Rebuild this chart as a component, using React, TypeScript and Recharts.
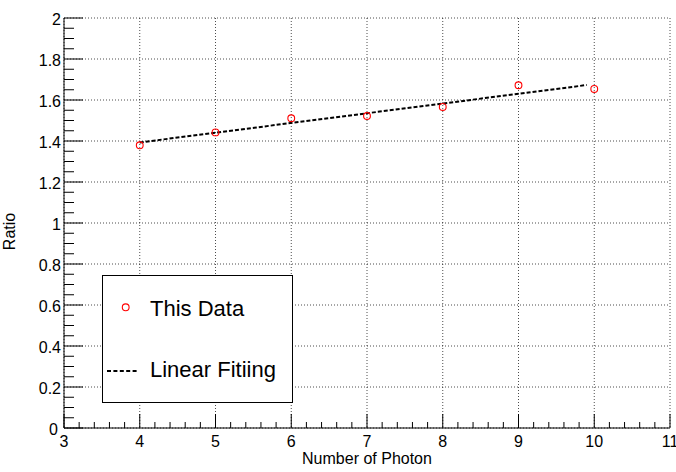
import React from 'react';
import { ComposedChart, XAxis, YAxis, CartesianGrid, Line, Scatter, Legend } from 'recharts';

// Measured ratio for each photon multiplicity
const photonCounts = [4, 5, 6, 7, 8, 9, 10];
const ratios = [1.379, 1.442, 1.511, 1.522, 1.566, 1.672, 1.654];

// Straight-line fit drawn over its fitted range
const fitPhotons = [4, 9.9];
const fitRatios = [1.393, 1.673];

// Axis divisions
const xMajorTicks = [3, 4, 5, 6, 7, 8, 9, 10, 11];
const yMajorTicks = [0, 0.2, 0.4, 0.6, 0.8, 1, 1.2, 1.4, 1.6, 1.8, 2];
const xMinorDivisions = 5;
const yMinorDivisions = 4;

const legendLabels = ['This Data', 'Linear Fitiing'];
const xTitle = 'Number of Photon';
const yTitle = 'Ratio';

const FONT = '"Liberation Sans", Arial, Helvetica, sans-serif';

const points = photonCounts.map((x, i) => ({ x, y: ratios[i] }));
const fitLine = fitPhotons.map((x, i) => ({ x, y: fitRatios[i] }));

function subdivide(majors: number[], n: number): number[] {
  const out: number[] = [];
  for (let i = 0; i < majors.length - 1; i++) {
    const a = majors[i];
    const b = majors[i + 1];
    for (let k = 0; k < n; k++) out.push(+(a + ((b - a) * k) / n).toFixed(4));
  }
  out.push(majors[majors.length - 1]);
  return out;
}

const xAllTicks = subdivide(xMajorTicks, xMinorDivisions);
const yAllTicks = subdivide(yMajorTicks, yMinorDivisions);

const isMajor = (v: number, majors: number[]) => majors.some((m) => Math.abs(m - v) < 1e-6);
const fmt = (v: number) => String(Number(v.toFixed(2)));

const X_MAJOR = 14;
const X_MINOR = 6;
const Y_MAJOR = 19;
const Y_MINOR = 10;

const BottomTick = (props: any) => {
  const { x, y, payload } = props;
  const major = isMajor(payload.value, xMajorTicks);
  return (
    <g>
      <line x1={x} x2={x} y1={y} y2={y - (major ? X_MAJOR : X_MINOR)} stroke="#000" strokeWidth={1} />
      {major && (
        <text x={x} y={y + 18.5} textAnchor="middle" fontFamily={FONT} fontSize={16} fill="#000">
          {fmt(payload.value)}
        </text>
      )}
    </g>
  );
};

const TopTick = (props: any) => {
  const { x, y, payload } = props;
  const major = isMajor(payload.value, xMajorTicks);
  return <line x1={x} x2={x} y1={y} y2={y + (major ? X_MAJOR : X_MINOR)} stroke="#000" strokeWidth={1} />;
};

const LeftTick = (props: any) => {
  const { x, y, payload } = props;
  const major = isMajor(payload.value, yMajorTicks);
  const zero = Math.abs(payload.value) < 1e-6;
  return (
    <g>
      <line x1={x} x2={x + (major ? Y_MAJOR : Y_MINOR)} y1={y} y2={y} stroke="#000" strokeWidth={1} />
      {major && (
        <text x={x - (zero ? 6 : 3)} y={y + 7.3} textAnchor="end" fontFamily={FONT} fontSize={16} fill="#000">
          {fmt(payload.value)}
        </text>
      )}
    </g>
  );
};

const RightTick = (props: any) => {
  const { x, y, payload } = props;
  const major = isMajor(payload.value, yMajorTicks);
  return <line x1={x} x2={x - (major ? Y_MAJOR : Y_MINOR)} y1={y} y2={y} stroke="#000" strokeWidth={1} />;
};

const XTitle = (props: any) => {
  const vb = props.viewBox || { x: 64, y: 428, width: 606, height: 44 };
  return (
    <text x={vb.x + vb.width / 2} y={vb.y + 36} textAnchor="middle" fontFamily={FONT} fontSize={16} fill="#000">
      {xTitle}
    </text>
  );
};

const YTitle = (props: any) => {
  const vb = props.viewBox || { x: 0, y: 18, width: 64, height: 410 };
  const cx = vb.x + 15;
  const cy = vb.y + vb.height / 2 + 8.5;
  return (
    <text
      x={cx}
      y={cy}
      transform={`rotate(-90, ${cx}, ${cy})`}
      textAnchor="middle"
      fontFamily={FONT}
      fontSize={16}
      fill="#000"
    >
      {yTitle}
    </text>
  );
};

const OpenCircle = (props: any) => {
  const { cx, cy } = props;
  return <circle cx={cx} cy={cy} r={3.4} fill="none" stroke="#ff0000" strokeWidth={1.1} />;
};

const LegendBox = () => (
  <div
    style={{
      width: 191,
      height: 128,
      boxSizing: 'border-box',
      border: '1px solid #000',
      background: '#fff',
    }}
  >
    <svg width={189} height={126} style={{ display: 'block' }}>
      <circle cx={22.7} cy={31.3} r={3.4} fill="none" stroke="#ff0000" strokeWidth={1.1} />
      <text x={47} y={40} fontFamily={FONT} fontSize={22} fill="#000">
        {legendLabels[0]}
      </text>
      <line x1={4} x2={36} y1={95} y2={95} stroke="#000" strokeWidth={2} strokeDasharray="4 2.4" />
      <text x={47} y={101} fontFamily={FONT} fontSize={22} fill="#000">
        {legendLabels[1]}
      </text>
    </svg>
  </div>
);

export default function App() {
  return (
    <div style={{ position: 'absolute', left: 0, top: 0, width: 676, height: 472, background: '#fff' }}>
      <ComposedChart width={676} height={472} margin={{ top: 18, right: 6, bottom: 0, left: 0 }}>
        <CartesianGrid
          stroke="#000"
          strokeOpacity={0.7}
          strokeDasharray="1 2"
          verticalValues={xMajorTicks}
          horizontalValues={yMajorTicks}
        />
        <XAxis
          xAxisId={0}
          dataKey="x"
          type="number"
          domain={[3, 11]}
          ticks={xAllTicks}
          interval={0}
          allowDataOverflow
          height={44}
          tickSize={0}
          tickMargin={0}
          tickLine={false}
          axisLine={{ stroke: '#000', strokeWidth: 1 }}
          tick={BottomTick}
          label={XTitle}
        />
        <XAxis
          xAxisId="top"
          orientation="top"
          dataKey="x"
          type="number"
          domain={[3, 11]}
          ticks={xAllTicks}
          interval={0}
          allowDataOverflow
          height={0}
          tickSize={0}
          tickMargin={0}
          tickLine={false}
          axisLine={{ stroke: '#000', strokeWidth: 1 }}
          tick={TopTick}
        />
        <YAxis
          yAxisId={0}
          dataKey="y"
          type="number"
          domain={[0, 2]}
          ticks={yAllTicks}
          interval={0}
          allowDataOverflow
          width={64}
          tickSize={0}
          tickMargin={0}
          tickLine={false}
          axisLine={{ stroke: '#000', strokeWidth: 1 }}
          tick={LeftTick}
          label={YTitle}
        />
        <YAxis
          yAxisId="right"
          orientation="right"
          dataKey="y"
          type="number"
          domain={[0, 2]}
          ticks={yAllTicks}
          interval={0}
          allowDataOverflow
          width={0}
          tickSize={0}
          tickMargin={0}
          tickLine={false}
          axisLine={{ stroke: '#000', strokeWidth: 1 }}
          tick={RightTick}
        />
        <Line
          xAxisId={0}
          yAxisId={0}
          data={fitLine}
          dataKey="y"
          type="linear"
          stroke="#000"
          strokeWidth={2}
          strokeDasharray="4 2"
          dot={false}
          activeDot={false}
          isAnimationActive={false}
          name={legendLabels[1]}
        />
        <Scatter
          xAxisId={0}
          yAxisId={0}
          data={points}
          dataKey="y"
          shape={OpenCircle}
          isAnimationActive={false}
          name={legendLabels[0]}
        />
        <Legend
          layout="vertical"
          align="center"
          verticalAlign="middle"
          content={LegendBox}
          wrapperStyle={{ left: 102, top: 275, width: 191, height: 128 }}
        />
      </ComposedChart>
    </div>
  );
}
